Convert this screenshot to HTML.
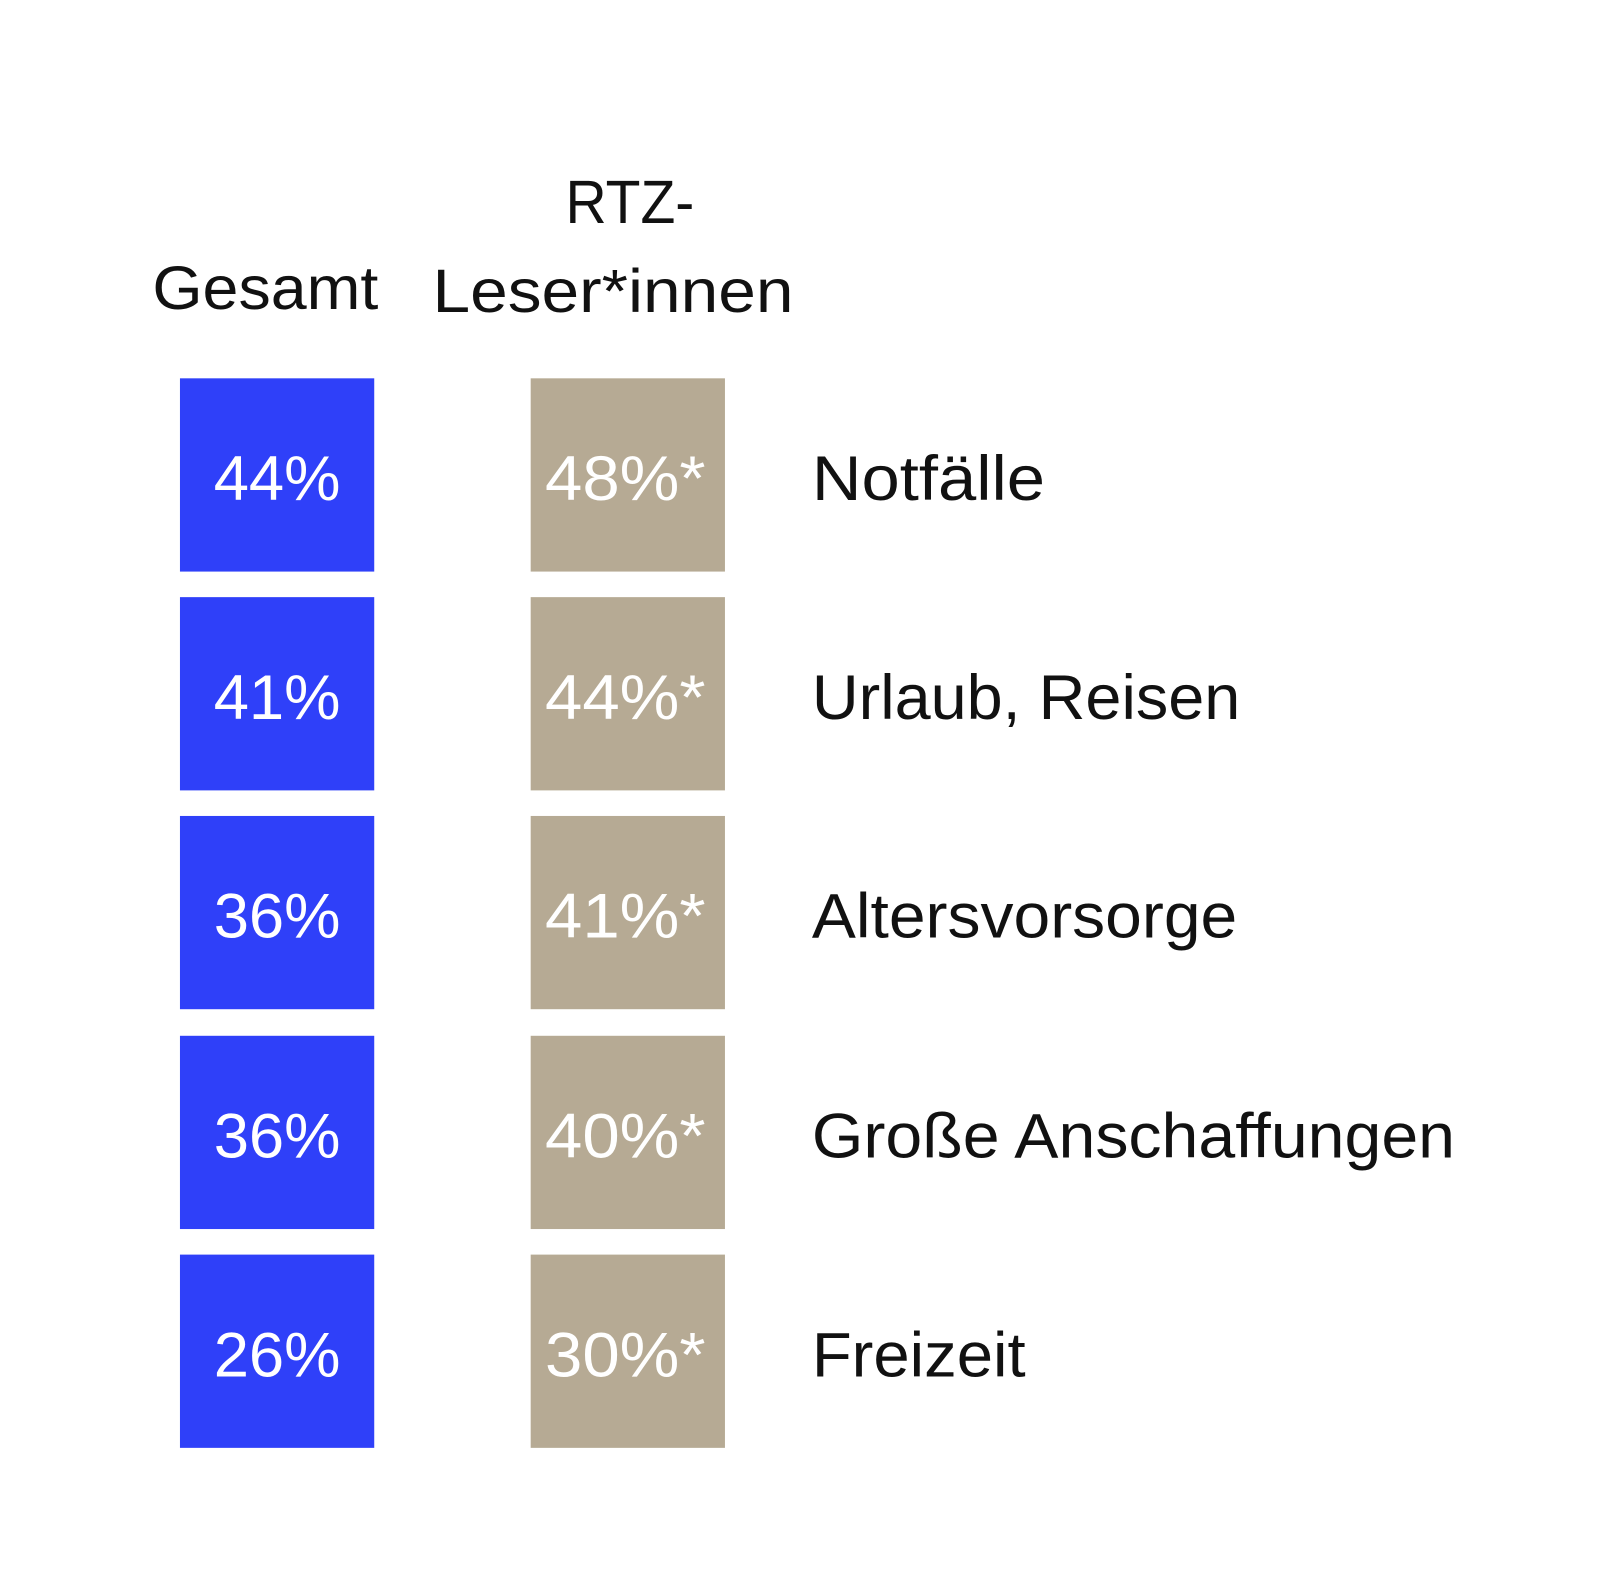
<!DOCTYPE html>
<html><head><meta charset="utf-8"><style>
html,body{margin:0;padding:0;background:#fff}
svg{display:block}
text{font-family:"Liberation Sans",sans-serif}
</style></head><body>
<svg width="1600" height="1593" viewBox="0 0 1600 1593" xmlns="http://www.w3.org/2000/svg">
<rect width="1600" height="1593" fill="#fff"/>
<g transform="scale(1.0225)">
<g font-size="60" fill="#111">
<text x="149" y="302" textLength="221" lengthAdjust="spacingAndGlyphs">Gesamt</text>
<text x="553" y="218" textLength="126" lengthAdjust="spacingAndGlyphs">RTZ-</text>
<text x="423" y="305" textLength="353" lengthAdjust="spacingAndGlyphs">Leser*innen</text>
</g>
<g fill="#2f40f9">
<rect x="176" y="370" width="190" height="189"/>
<rect x="176" y="584" width="190" height="189"/>
<rect x="176" y="798" width="190" height="189"/>
<rect x="176" y="1013" width="190" height="189"/>
<rect x="176" y="1227" width="190" height="189"/>
</g>
<g fill="#b6aa94">
<rect x="519" y="370" width="190" height="189"/>
<rect x="519" y="584" width="190" height="189"/>
<rect x="519" y="798" width="190" height="189"/>
<rect x="519" y="1013" width="190" height="189"/>
<rect x="519" y="1227" width="190" height="189"/>
</g>
<g font-size="62" fill="#fff">
<text x="209" y="489" textLength="124" lengthAdjust="spacingAndGlyphs">44%</text>
<text x="209" y="703" textLength="124" lengthAdjust="spacingAndGlyphs">41%</text>
<text x="209" y="917" textLength="124" lengthAdjust="spacingAndGlyphs">36%</text>
<text x="209" y="1132" textLength="124" lengthAdjust="spacingAndGlyphs">36%</text>
<text x="209" y="1346" textLength="124" lengthAdjust="spacingAndGlyphs">26%</text>
<text x="533" y="489" textLength="157" lengthAdjust="spacingAndGlyphs">48%*</text>
<text x="533" y="703" textLength="157" lengthAdjust="spacingAndGlyphs">44%*</text>
<text x="533" y="917" textLength="157" lengthAdjust="spacingAndGlyphs">41%*</text>
<text x="533" y="1132" textLength="157" lengthAdjust="spacingAndGlyphs">40%*</text>
<text x="533" y="1346" textLength="157" lengthAdjust="spacingAndGlyphs">30%*</text>
</g>
<g font-size="62" fill="#111">
<text x="794" y="489" textLength="228" lengthAdjust="spacingAndGlyphs">Notfälle</text>
<text x="794" y="703" textLength="419" lengthAdjust="spacingAndGlyphs">Urlaub, Reisen</text>
<text x="794" y="917" textLength="416" lengthAdjust="spacingAndGlyphs">Altersvorsorge</text>
<text x="794" y="1132" textLength="629" lengthAdjust="spacingAndGlyphs">Große Anschaffungen</text>
<text x="794" y="1346" textLength="209" lengthAdjust="spacingAndGlyphs">Freizeit</text>
</g>
</g>
</svg>
</body></html>
